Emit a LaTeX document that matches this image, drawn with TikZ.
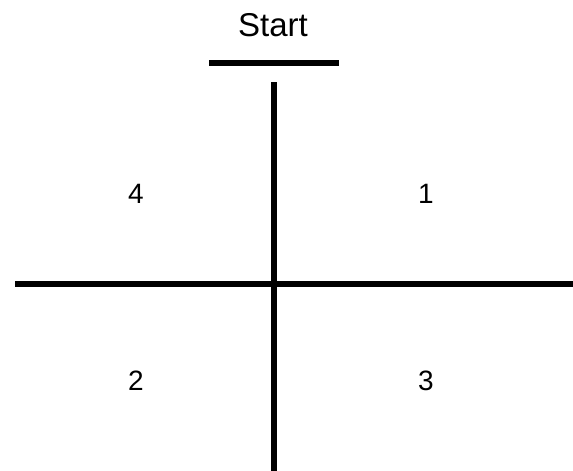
\documentclass[tikz,border=0pt]{standalone}
\usepackage{fontspec}
\setmainfont{Liberation Sans}
\begin{document}
\begin{tikzpicture}[x=1pt,y=-1pt,
  bar/.style={line width=6pt,line cap=butt},
  title/.style={font=\fontsize{33}{36}\selectfont,inner sep=0pt,anchor=base},
  quad/.style={font=\fontsize{28}{32}\selectfont,inner sep=0pt,anchor=base}]
\useasboundingbox (0,0) rectangle (573,471);
\node[title] (start) at (273,36) {Start};
\coordinate (sl) at (209,63);
\coordinate (sr) at (339,63);
\coordinate (vt) at (274,82);
\coordinate (vb) at (274,471);
\coordinate (hl) at (15,283.5);
\coordinate (hr) at (573,283.5);
\draw[bar] (sl) -- (sr);
\draw[bar] (vt) -- (vb);
\draw[bar] (hl) -- (hr);
\node[quad] (q4) at (136,203) {4};
\node[quad] (q1) at (426,203) {1};
\node[quad] (q2) at (136,390) {2};
\node[quad] (q3) at (426,390) {3};
\end{tikzpicture}
\end{document}
